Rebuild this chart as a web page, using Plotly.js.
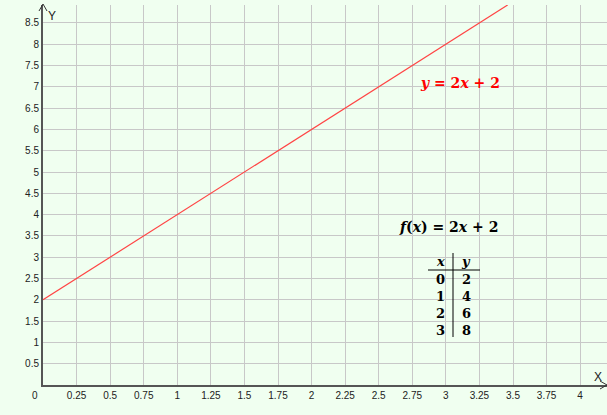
<!DOCTYPE html>
<html><head><meta charset="utf-8">
<script src="https://cdn.plot.ly/plotly-3.0.1.min.js"></script>
<style>html,body{margin:0;padding:0;background:#f0fff0}</style>
</head><body>
<div id="chart" style="width:607px;height:415px"></div>
<script>
// table data
const tableX = [0, 1, 2, 3];
const tableY = [2, 4, 6, 8];
// line endpoints (y = 2x + 2)
const lineX = [0, 3.46];
const lineY = [2, 8.92];
// tick labels
const xTickVals = [0.25,0.5,0.75,1,1.25,1.5,1.75,2,2.25,2.5,2.75,3,3.25,3.5,3.75,4];
const xTickText = ["0.25","0.5","0.75","1","1.25","1.5","1.75","2","2.25","2.5","2.75","3","3.25","3.5","3.75","4"];
const yTickVals = [0.5,1,1.5,2,2.5,3,3.5,4,4.5,5,5.5,6,6.5,7,7.5,8,8.5];
const yTickText = ["0.5","1","1.5","2","2.5","3","3.5","4","4.5","5","5.5","6","6.5","7","7.5","8","8.5"];

const serif = "DejaVu Serif, Liberation Serif, serif";
const sans = "Liberation Sans, Arial, sans-serif";
function px(xp){return (xp-43)/564;}
function py(yp){return 1-(yp-5)/380;}
function note(xp, yp, text, font){
  return {xref:'paper', yref:'paper', x:px(xp), y:py(yp), xanchor:'center', yanchor:'middle', text:text, showarrow:false, font:font};
}
const annotations = [];
const tf = {family:serif,size:13,color:'#000'};
const colXpx = 440, colYpx = 466;
annotations.push(note(colXpx, 261, '<b><i>x</i></b>', tf));
annotations.push(note(colYpx, 261, '<b><i>y</i></b>', tf));
tableX.forEach((v,i)=>{
  const yy = 279 + i*17;
  annotations.push(note(colXpx, yy, '<b>'+v+'</b>', tf));
  annotations.push(note(colYpx, yy, '<b>'+tableY[i]+'</b>', tf));
});
annotations.push(note(448, 227, '<b><i>f</i>(<i>x</i>) = 2<i>x</i> + 2</b>', {family:serif,size:14,color:'#000'}));
annotations.push(note(460, 83, '<b><i>y</i> = 2<i>x</i> + 2</b>', {family:serif,size:14,color:'#ff0000'}));
annotations.push(note(52, 16, 'Y', {family:sans,size:12,color:'#222'}));
annotations.push(note(598, 377, 'X', {family:sans,size:12,color:'#222'}));
annotations.push(note(35, 395, '0', {family:sans,size:10,color:'#222'}));

const shapes = [
  {type:'line', xref:'paper', yref:'paper', x0:px(428), x1:px(480), y0:py(270), y1:py(270), line:{color:'#000',width:1}},
  {type:'line', xref:'paper', yref:'paper', x0:px(453), x1:px(453), y0:py(253), y1:py(337), line:{color:'#000',width:1}},
  {type:'path', xref:'paper', yref:'paper', path:`M ${px(39)} ${py(11)} L ${px(43)} ${py(4)} L ${px(47)} ${py(11)}`, line:{color:'#333',width:1}},
  {type:'path', xref:'paper', yref:'paper', path:`M ${px(600)} ${py(381)} L ${px(607)} ${py(385)} L ${px(600)} ${py(389)}`, line:{color:'#333',width:1}}
];

const data = [{
  x: lineX, y: lineY, type:'scatter', mode:'lines',
  line:{color:'#ff4444', width:1.2}, hoverinfo:'skip'
}];

const layout = {
  width:607, height:415,
  margin:{l:43, r:0, t:5, b:30},
  paper_bgcolor:'#f0fff0', plot_bgcolor:'#f0fff0',
  showlegend:false,
  xaxis:{range:[0,4.2], tickvals:xTickVals, ticktext:xTickText, showgrid:true, gridcolor:'#c8c8c8', gridwidth:1,
    zeroline:false, showline:true, linecolor:'#555', linewidth:2, ticks:'', fixedrange:true,
    tickfont:{family:sans, size:10, color:'#222'}},
  yaxis:{range:[0,8.92], tickvals:yTickVals, ticktext:yTickText, showgrid:true, gridcolor:'#c8c8c8', gridwidth:1,
    zeroline:false, showline:true, linecolor:'#555', linewidth:2, ticks:'', fixedrange:true,
    tickfont:{family:sans, size:10, color:'#222'}},
  annotations: annotations,
  shapes: shapes
};
Plotly.newPlot('chart', data, layout, {displayModeBar:false, staticPlot:true});
</script>
</body></html>
